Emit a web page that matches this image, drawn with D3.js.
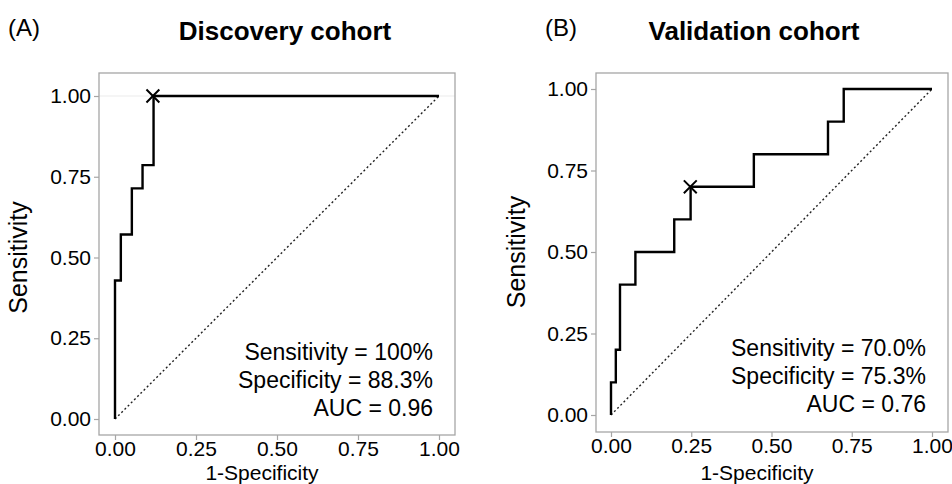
<!DOCTYPE html>
<html>
<head>
<meta charset="utf-8">
<script src="https://cdn.jsdelivr.net/npm/d3@7"></script>
<style>
  body { margin: 0; background: #fff; }
  svg text { font-family: "Liberation Sans", Arial, sans-serif; fill: #000; }
</style>
</head>
<body>
<div id="chart"></div>
<script>
// ROC corner points (1-specificity, sensitivity), drawn as steps
var discoveryFpr = [0, 0, 0.018, 0.052, 0.085, 0.119, 1];
var discoveryTpr = [0, 0.429, 0.571, 0.714, 0.786, 1, 1];
var validationFpr = [0, 0, 0.015, 0.028, 0.076, 0.197, 0.248, 0.445, 0.676, 0.725, 1];
var validationTpr = [0, 0.1, 0.2, 0.4, 0.5, 0.6, 0.7, 0.8, 0.9, 1, 1];

// chosen cut-off (cross marker)
var discoveryCut = [0.117, 1.0];
var validationCut = [0.247, 0.70];

var tickValues = [0, 0.25, 0.5, 0.75, 1];
var panelTitles = ["Discovery cohort", "Validation cohort"];
var panelTags = ["(A)", "(B)"];
var discoveryStats = ["Sensitivity = 100%", "Specificity = 88.3%", "AUC = 0.96"];
var validationStats = ["Sensitivity = 70.0%", "Specificity = 75.3%", "AUC = 0.76"];

var width = 952, height = 484;

var svg = d3.select("#chart")
  .append("svg")
    .attr("width", width)
    .attr("height", height);

var panels = [
  { fpr: discoveryFpr, tpr: discoveryTpr, cut: discoveryCut, stats: discoveryStats,
    title: panelTitles[0], tag: panelTags[0],
    box: [99, 73, 455, 435], x: [115, 439], y: [419, 96],
    tagX: 8, titleX: 285, yTitleX: 27, xTitleX: 262, grid1: true },
  { fpr: validationFpr, tpr: validationTpr, cut: validationCut, stats: validationStats,
    title: panelTitles[1], tag: panelTags[1],
    box: [596, 73, 948, 432], x: [611, 932], y: [415, 89],
    tagX: 545, titleX: 754, yTitleX: 525, xTitleX: 757, grid1: false }
];

panels.forEach(function(p) {
  var g = svg.append("g");

  var x = d3.scaleLinear().domain([0, 1]).range(p.x);
  var y = d3.scaleLinear().domain([0, 1]).range(p.y);

  // faint grid line at 1.00 (only visible in panel A)
  if (p.grid1) {
    g.append("line")
      .attr("x1", p.box[0]).attr("x2", p.box[2])
      .attr("y1", y(1)).attr("y2", y(1))
      .attr("stroke", "#ebebeb").attr("stroke-width", 1);
  }

  // panel border
  g.append("rect")
    .attr("x", p.box[0]).attr("y", p.box[1])
    .attr("width", p.box[2] - p.box[0])
    .attr("height", p.box[3] - p.box[1])
    .attr("fill", "none")
    .attr("stroke", "#a6a6a6")
    .attr("stroke-width", 1.3);

  // axes
  var xAxis = g.append("g")
    .attr("transform", "translate(0," + p.box[3] + ")")
    .call(d3.axisBottom(x).tickValues(tickValues).tickFormat(d3.format(".2f")).tickSize(5).tickPadding(1));
  var yAxis = g.append("g")
    .attr("transform", "translate(" + p.box[0] + ",0)")
    .call(d3.axisLeft(y).tickValues(tickValues).tickFormat(d3.format(".2f")).tickSize(5).tickPadding(3));
  [xAxis, yAxis].forEach(function(a) {
    a.select(".domain").remove();
    a.selectAll(".tick line").attr("stroke", "#a6a6a6").attr("stroke-width", 1.2);
    a.selectAll(".tick text")
      .attr("fill", "#1a1a1a")
      .style("font-size", "21px")
      .style("font-family", "'Liberation Sans', Arial, sans-serif");
  });

  // diagonal reference
  g.append("line")
    .attr("x1", x(0)).attr("y1", y(0))
    .attr("x2", x(1)).attr("y2", y(1))
    .attr("stroke", "#222")
    .attr("stroke-width", 1.4)
    .attr("stroke-dasharray", "2,2.5");

  // ROC step curve
  var pts = p.fpr.map(function(d, i) { return [d, p.tpr[i]]; });
  var line = d3.line()
    .x(function(d) { return x(d[0]); })
    .y(function(d) { return y(d[1]); })
    .curve(d3.curveStepAfter);
  g.append("path")
    .datum(pts)
    .attr("d", line)
    .attr("fill", "none")
    .attr("stroke", "#000")
    .attr("stroke-width", 2.4);

  // cut-off cross
  g.append("path")
    .attr("d", d3.symbol().type(d3.symbolX).size(110))
    .attr("transform", "translate(" + x(p.cut[0]) + "," + y(p.cut[1]) + ")")
    .attr("fill", "none")
    .attr("stroke", "#000")
    .attr("stroke-width", 2);

  // annotation
  g.selectAll(".stat")
    .data(p.stats)
    .enter()
    .append("text")
      .attr("class", "stat")
      .attr("x", x(1) - 6)
      .attr("y", function(d, i) { return y(0) - 59 + i * 28; })
      .attr("text-anchor", "end")
      .style("font-size", "23px")
      .text(function(d) { return d; });

  // titles
  g.append("text")
    .attr("x", p.titleX).attr("y", 40)
    .attr("text-anchor", "middle")
    .style("font-size", "26px")
    .style("font-weight", "bold")
    .text(p.title);
  g.append("text")
    .attr("x", p.tagX).attr("y", 36)
    .style("font-size", "24px")
    .text(p.tag);

  // axis titles
  g.append("text")
    .attr("x", p.xTitleX).attr("y", 479.5)
    .attr("text-anchor", "middle")
    .style("font-size", "21px")
    .text("1-Specificity");
  g.append("text")
    .attr("transform", "translate(" + p.yTitleX + "," + ((p.y[0] + p.y[1]) / 2) + ") rotate(-90)")
    .attr("text-anchor", "middle")
    .style("font-size", "25px")
    .text("Sensitivity");
});
</script>
</body>
</html>
